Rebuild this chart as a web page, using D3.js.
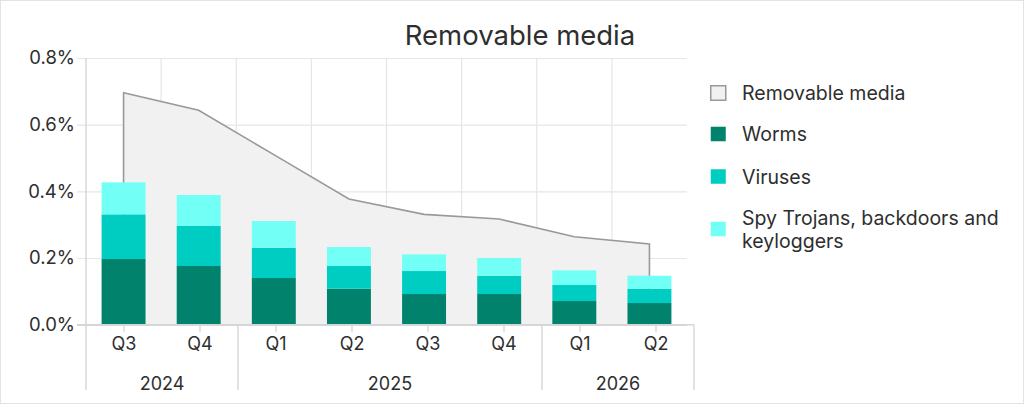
<!DOCTYPE html>
<html>
<head>
<meta charset="utf-8">
<script src="https://cdn.jsdelivr.net/npm/d3@7"></script>
<style>
  body { margin: 0; background: #fff; }
  text { font-family: Inter, "Open Sans", sans-serif; fill: #2e2e2e; }
</style>
</head>
<body>
<svg id="chart" width="1024" height="404"></svg>
<script>
// data (values in percent)
var quarters = ["Q3", "Q4", "Q1", "Q2", "Q3", "Q4", "Q1", "Q2"];
var yearLabels = ["2024", "2025", "2026"];
var yearSpans = [2, 4, 2];
var removableMedia = [0.696, 0.643, 0.510, 0.377, 0.331, 0.317, 0.264, 0.242];
var worms = [0.197, 0.176, 0.140, 0.108, 0.092, 0.092, 0.071, 0.065];
var viruses = [0.134, 0.120, 0.091, 0.068, 0.069, 0.055, 0.048, 0.043];
var spyTrojans = [0.096, 0.093, 0.080, 0.057, 0.050, 0.053, 0.044, 0.039];
var yTicks = [0, 0.2, 0.4, 0.6, 0.8];

var seriesNames = ["Worms", "Viruses", "Spy Trojans, backdoors and keyloggers"];
var COLORS = ["#00826d", "#00cdc1", "#72fff6"];
var AREA_FILL = "#f1f1f1";
var AREA_STROKE = "#999999";
var GRID = "#e6e6e6";
var AXIS = "#d6d6d6";

var svg = d3.select("#chart");

// frame
svg.append("rect")
  .attr("x", 0.5).attr("y", 0.5)
  .attr("width", 1023).attr("height", 403)
  .attr("fill", "#fff")
  .attr("stroke", "#e3e3e3");

var idx = d3.range(quarters.length);
var y = d3.scaleLinear().domain([0, 0.8]).range([324.7, 58]);
// bars and the area sit on this band scale
var xBar = d3.scaleBand().domain(idx).range([86, 687]);
// the category axis is a touch wider than the plot
var xAxisScale = d3.scaleBand().domain(idx).range([86, 694]);
var barW = xBar.bandwidth() * 0.585;
var cx = function(i) { return xBar(i) + xBar.bandwidth() / 2; };

// vertical gridlines
svg.append("g")
  .selectAll("line")
  .data(idx.slice(1))
  .join("line")
  .attr("x1", function(d) { return xBar(d); })
  .attr("x2", function(d) { return xBar(d); })
  .attr("y1", y(0.8)).attr("y2", y(0))
  .attr("stroke", GRID).attr("stroke-width", 1.2);

// y axis with horizontal gridlines
var yAxis = svg.append("g")
  .attr("transform", "translate(77,0)")
  .call(d3.axisLeft(y)
    .tickValues(yTicks)
    .tickSize(-610)
    .tickPadding(2)
    .tickFormat(function(d) { return d.toFixed(1) + "%"; }));
yAxis.select(".domain").remove();
yAxis.selectAll(".tick line")
  .attr("stroke", function(d) { return d === 0 ? AXIS : GRID; })
  .attr("stroke-width", function(d) { return d === 0 ? 1.6 : 1.2; });
yAxis.selectAll(".tick text")
  .attr("font-size", 18.5)
  .attr("fill", "#2e2e2e");

svg.append("line")
  .attr("x1", 86).attr("x2", 86)
  .attr("y1", y(0.8)).attr("y2", y(0))
  .attr("stroke", AXIS).attr("stroke-width", 1.4);

// removable media area behind the bars
var area = d3.area()
  .x(function(d, i) { return cx(i); })
  .y0(y(0))
  .y1(function(d) { return y(d); });
var line = d3.line()
  .x(function(d, i) { return cx(i); })
  .y(function(d) { return y(d); });

svg.append("path")
  .datum(removableMedia)
  .attr("d", area)
  .attr("fill", AREA_FILL);

var n = removableMedia.length;
svg.append("path")
  .attr("d", "M" + cx(0) + "," + y(0) + "L" + line(removableMedia).slice(1) + "L" + cx(n - 1) + "," + y(0))
  .attr("fill", "none")
  .attr("stroke", AREA_STROKE)
  .attr("stroke-width", 1.6);

// stacked bars
var table = idx.map(function(i) {
  return { i: i, worms: worms[i], viruses: viruses[i], spy: spyTrojans[i] };
});
var stack = d3.stack().keys(["worms", "viruses", "spy"]);
var layers = stack(table);

svg.append("g")
  .selectAll("g")
  .data(layers)
  .join("g")
  .attr("fill", function(d, k) { return COLORS[k]; })
  .selectAll("rect")
  .data(function(d) { return d; })
  .join("rect")
  .attr("x", function(d) { return cx(d.data.i) - barW / 2; })
  .attr("width", barW)
  .attr("y", function(d) { return y(d[1]); })
  .attr("height", function(d) { return y(d[0]) - y(d[1]); });

// x axis line
svg.append("line")
  .attr("x1", 77).attr("x2", 694)
  .attr("y1", y(0)).attr("y2", y(0))
  .attr("stroke", AXIS).attr("stroke-width", 1.6);

// quarter ticks and labels
var xAxis = svg.append("g")
  .attr("transform", "translate(0," + y(0) + ")")
  .call(d3.axisBottom(xAxisScale)
    .tickSize(7)
    .tickPadding(6)
    .tickFormat(function(d) { return quarters[d]; }));
xAxis.select(".domain").remove();
xAxis.selectAll(".tick line").attr("stroke", AXIS).attr("stroke-width", 1.4);
xAxis.selectAll(".tick text").attr("font-size", 18).attr("fill", "#2e2e2e");

// year groups
var bounds = [0];
yearSpans.forEach(function(s, k) { bounds.push(bounds[k] + s); });
var edgeX = function(b) { return b < n ? xAxisScale(b) : xAxisScale.range()[1]; };

svg.append("g")
  .selectAll("line")
  .data(bounds)
  .join("line")
  .attr("x1", edgeX).attr("x2", edgeX)
  .attr("y1", y(0)).attr("y2", 390)
  .attr("stroke", AXIS).attr("stroke-width", 1.4);

svg.append("g")
  .selectAll("text")
  .data(yearLabels)
  .join("text")
  .attr("x", function(d, k) { return (edgeX(bounds[k]) + edgeX(bounds[k + 1])) / 2; })
  .attr("y", 390)
  .attr("text-anchor", "middle")
  .attr("font-size", 18)
  .text(function(d) { return d; });

// title
svg.append("text")
  .attr("x", 520).attr("y", 45)
  .attr("text-anchor", "middle")
  .attr("font-size", 27.5)
  .text("Removable media");

// legend
var legend = svg.append("g").attr("transform", "translate(710,0)");
var legendItems = [
  { label: ["Removable media"], fill: AREA_FILL, stroke: AREA_STROKE, cy: 93 },
  { label: [seriesNames[0]], fill: COLORS[0], stroke: "none", cy: 134 },
  { label: [seriesNames[1]], fill: COLORS[1], stroke: "none", cy: 176.5 },
  { label: ["Spy Trojans, backdoors and", "keyloggers"], fill: COLORS[2], stroke: "none", cy: 229 }
];
var li = legend.selectAll("g")
  .data(legendItems)
  .join("g")
  .attr("transform", function(d) { return "translate(0," + d.cy + ")"; });
li.append("rect")
  .attr("x", 0.75).attr("y", -7.25)
  .attr("width", 15).attr("height", 14.5)
  .attr("fill", function(d) { return d.fill; })
  .attr("stroke", function(d) { return d.stroke; })
  .attr("stroke-width", 1.5);
li.append("text")
  .attr("x", 32)
  .attr("font-size", 19.5)
  .selectAll("tspan")
  .data(function(d) { return d.label.map(function(t, j) { return { t: t, j: j, m: d.label.length }; }); })
  .join("tspan")
  .attr("x", 32)
  .attr("y", function(d) { return 7 + (d.j - (d.m - 1) / 2) * 23; })
  .text(function(d) { return d.t; });
</script>
</body>
</html>
